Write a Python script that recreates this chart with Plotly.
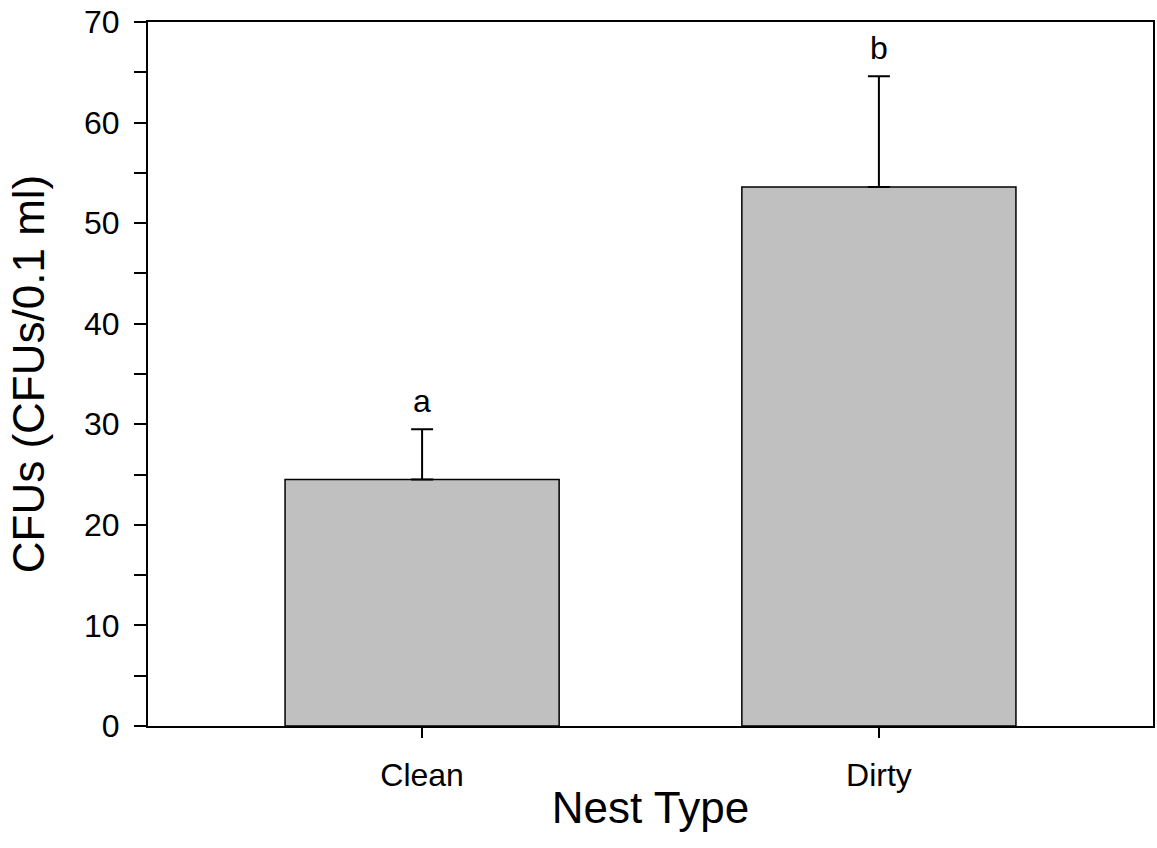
import plotly.graph_objects as go

# Mean colony counts per nest type with standard errors
nest_types = ["Clean", "Dirty"]
mean_cfus = [24.5, 53.6]
se_cfus = [5.0, 11.0]
group_letters = ["a", "b"]

FONT = "Liberation Sans, Arial, sans-serif"

fig = go.Figure()
fig.add_trace(go.Bar(
    x=nest_types,
    y=mean_cfus,
    width=0.6,
    marker=dict(color="#c0c0c0", line=dict(color="black", width=1.5)),
    error_y=dict(type="data", array=se_cfus, symmetric=False, arrayminus=[0, 0],
                 color="black", thickness=2, width=11),
    showlegend=False,
))

# Significance letters above each error bar
for cat, m, e, lab in zip(nest_types, mean_cfus, se_cfus, group_letters):
    fig.add_annotation(x=cat, y=m + e, text=lab, showarrow=False,
                       yanchor="bottom", yshift=8,
                       font=dict(family=FONT, size=32, color="black"))

fig.update_layout(
    width=1157, height=848,
    margin=dict(l=148, r=2, t=22, b=122),
    paper_bgcolor="white", plot_bgcolor="white",
    font=dict(family=FONT, color="black"),
    bargap=0.4,
)
fig.update_xaxes(
    range=[-0.6, 1.6],
    showline=True, linecolor="black", linewidth=2, mirror=True,
    ticks="outside", ticklen=10, tickwidth=2, tickcolor="black",
    tickfont=dict(size=32), showgrid=False, ticklabelstandoff=10,
    title=dict(text="Nest Type", font=dict(size=44), standoff=0),
)
fig.update_yaxes(
    range=[0, 70], dtick=10,
    showline=True, linecolor="black", linewidth=2, mirror=True,
    ticks="outside", ticklen=12, tickwidth=2, tickcolor="black",
    tickfont=dict(size=32), showgrid=False, zeroline=False,
    ticklabelstandoff=8,
    minor=dict(dtick=5, ticks="outside", ticklen=12, tickwidth=2, tickcolor="black", showgrid=False),
    title=dict(text="CFUs (CFUs/0.1 ml)", font=dict(size=44), standoff=26),
)

fig.write_html("out.html")
